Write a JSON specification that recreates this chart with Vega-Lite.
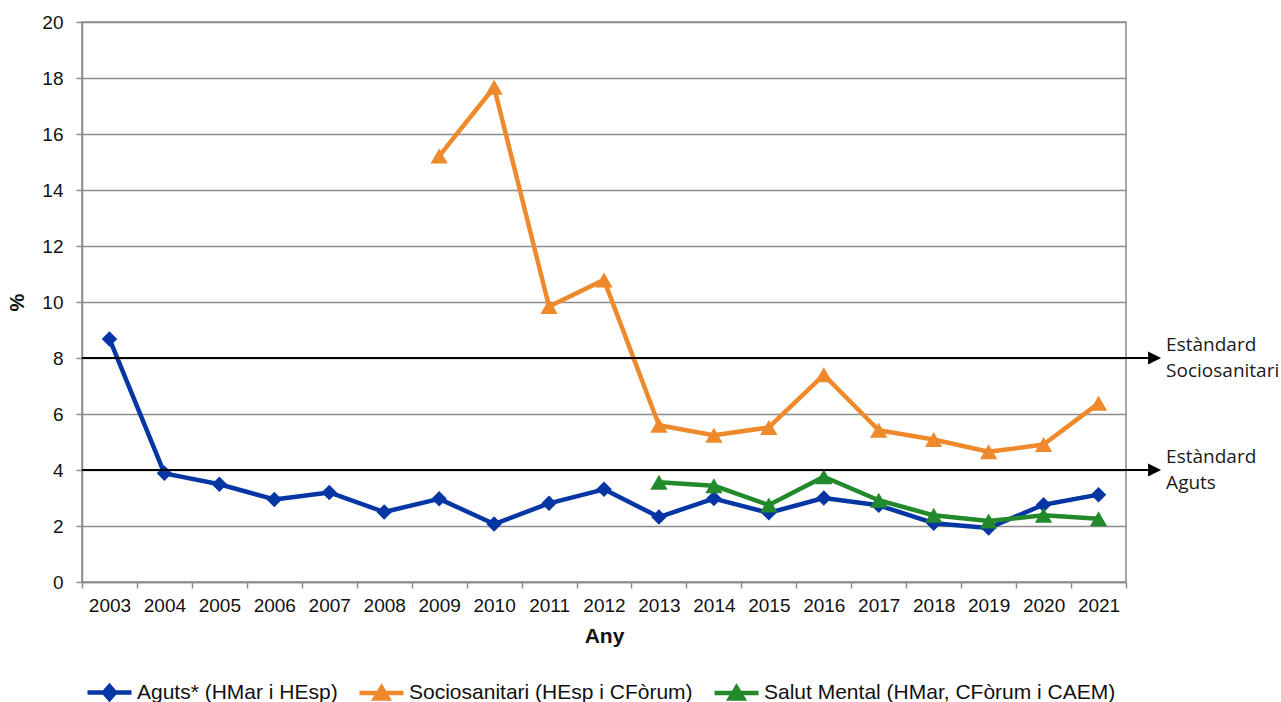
{
  "$schema": "https://vega.github.io/schema/vega-lite/v6.json",
  "width": 1044,
  "height": 560,
  "autosize": {"type": "none"},
  "padding": {"left": 82, "top": 22, "right": 155, "bottom": 120},
  "background": "white",
  "config": {
    "view": {"stroke": "#8c8c8c", "strokeWidth": 1.5},
    "font": "Liberation Sans"
  },
  "datasets": {
    "series": [
      {"any": 2003, "serie": "Aguts* (HMar i HEsp)", "valor": 8.68},
      {"any": 2004, "serie": "Aguts* (HMar i HEsp)", "valor": 3.88},
      {"any": 2005, "serie": "Aguts* (HMar i HEsp)", "valor": 3.49},
      {"any": 2006, "serie": "Aguts* (HMar i HEsp)", "valor": 2.95},
      {"any": 2007, "serie": "Aguts* (HMar i HEsp)", "valor": 3.2},
      {"any": 2008, "serie": "Aguts* (HMar i HEsp)", "valor": 2.5},
      {"any": 2009, "serie": "Aguts* (HMar i HEsp)", "valor": 2.97},
      {"any": 2010, "serie": "Aguts* (HMar i HEsp)", "valor": 2.07},
      {"any": 2011, "serie": "Aguts* (HMar i HEsp)", "valor": 2.81},
      {"any": 2012, "serie": "Aguts* (HMar i HEsp)", "valor": 3.31},
      {"any": 2013, "serie": "Aguts* (HMar i HEsp)", "valor": 2.32},
      {"any": 2014, "serie": "Aguts* (HMar i HEsp)", "valor": 2.98},
      {"any": 2015, "serie": "Aguts* (HMar i HEsp)", "valor": 2.47},
      {"any": 2016, "serie": "Aguts* (HMar i HEsp)", "valor": 3.0},
      {"any": 2017, "serie": "Aguts* (HMar i HEsp)", "valor": 2.74},
      {"any": 2018, "serie": "Aguts* (HMar i HEsp)", "valor": 2.1},
      {"any": 2019, "serie": "Aguts* (HMar i HEsp)", "valor": 1.93},
      {"any": 2020, "serie": "Aguts* (HMar i HEsp)", "valor": 2.76},
      {"any": 2021, "serie": "Aguts* (HMar i HEsp)", "valor": 3.12},
      {"any": 2009, "serie": "Sociosanitari (HEsp i CFòrum)", "valor": 15.21},
      {"any": 2010, "serie": "Sociosanitari (HEsp i CFòrum)", "valor": 17.67},
      {"any": 2011, "serie": "Sociosanitari (HEsp i CFòrum)", "valor": 9.84},
      {"any": 2012, "serie": "Sociosanitari (HEsp i CFòrum)", "valor": 10.79},
      {"any": 2013, "serie": "Sociosanitari (HEsp i CFòrum)", "valor": 5.6},
      {"any": 2014, "serie": "Sociosanitari (HEsp i CFòrum)", "valor": 5.24},
      {"any": 2015, "serie": "Sociosanitari (HEsp i CFòrum)", "valor": 5.52},
      {"any": 2016, "serie": "Sociosanitari (HEsp i CFòrum)", "valor": 7.4},
      {"any": 2017, "serie": "Sociosanitari (HEsp i CFòrum)", "valor": 5.42},
      {"any": 2018, "serie": "Sociosanitari (HEsp i CFòrum)", "valor": 5.09},
      {"any": 2019, "serie": "Sociosanitari (HEsp i CFòrum)", "valor": 4.65},
      {"any": 2020, "serie": "Sociosanitari (HEsp i CFòrum)", "valor": 4.91},
      {"any": 2021, "serie": "Sociosanitari (HEsp i CFòrum)", "valor": 6.38},
      {"any": 2013, "serie": "Salut Mental (HMar, CFòrum i CAEM)", "valor": 3.56},
      {"any": 2014, "serie": "Salut Mental (HMar, CFòrum i CAEM)", "valor": 3.44},
      {"any": 2015, "serie": "Salut Mental (HMar, CFòrum i CAEM)", "valor": 2.75},
      {"any": 2016, "serie": "Salut Mental (HMar, CFòrum i CAEM)", "valor": 3.76},
      {"any": 2017, "serie": "Salut Mental (HMar, CFòrum i CAEM)", "valor": 2.92},
      {"any": 2018, "serie": "Salut Mental (HMar, CFòrum i CAEM)", "valor": 2.38},
      {"any": 2019, "serie": "Salut Mental (HMar, CFòrum i CAEM)", "valor": 2.18},
      {"any": 2020, "serie": "Salut Mental (HMar, CFòrum i CAEM)", "valor": 2.38},
      {"any": 2021, "serie": "Salut Mental (HMar, CFòrum i CAEM)", "valor": 2.26}
    ],
    "standards": [
      {"valor": 8, "etiqueta": ["Estàndard", "Sociosanitari"]},
      {"valor": 4, "etiqueta": ["Estàndard", "Aguts"]}
    ]
  },
  "layer": [
    {
      "data": {"name": "series"},
      "mark": {"type": "line", "strokeWidth": 4.5, "strokeJoin": "round"},
      "encoding": {
        "x": {
          "field": "any", "type": "quantitative",
          "scale": {"domain": [2002.5, 2021.5], "nice": false, "zero": false},
          "axis": {
            "values": [2002.5, 2003.5, 2004.5, 2005.5, 2006.5, 2007.5, 2008.5, 2009.5, 2010.5, 2011.5, 2012.5, 2013.5, 2014.5, 2015.5, 2016.5, 2017.5, 2018.5, 2019.5, 2020.5, 2021.5],
            "labelExpr": "datum.value < 2021.4 ? format(datum.value + 0.5, 'd') : ''",
            "labelOffset": 27.47, "labelAlign": "center",
            "tickSize": 6, "tickColor": "#8c8c8c", "tickWidth": 1.5,
            "domainColor": "#8c8c8c", "domainWidth": 1.5,
            "labelFontSize": 19, "labelColor": "#111111", "labelPadding": 8,
            "labelOverlap": false, "labelFlush": false, "labelBound": false, "grid": false,
            "title": "Any", "titleFontSize": 21, "titleFontWeight": "bold", "titleColor": "#111111", "titlePadding": 10
          }
        },
        "y": {
          "field": "valor", "type": "quantitative",
          "scale": {"domain": [0, 20], "nice": false},
          "axis": {
            "values": [0, 2, 4, 6, 8, 10, 12, 14, 16, 18, 20],
            "grid": true, "gridColor": "#8c8c8c", "gridWidth": 1.5,
            "tickSize": 6, "tickColor": "#8c8c8c", "tickWidth": 1.5,
            "domainColor": "#8c8c8c", "domainWidth": 1.5,
            "labelFontSize": 19, "labelColor": "#111111", "labelPadding": 13,
            "title": "%", "titleFontSize": 20, "titleFontWeight": "bold", "titleColor": "#111111", "titlePadding": 14
          }
        },
        "color": {
          "field": "serie", "type": "nominal",
          "scale": {
            "domain": ["Aguts* (HMar i HEsp)", "Sociosanitari (HEsp i CFòrum)", "Salut Mental (HMar, CFòrum i CAEM)"],
            "range": ["#0636a3", "#ef8a2c", "#228a2b"]
          },
          "legend": {
            "orient": "none", "legendX": 3, "legendY": 646,
            "direction": "horizontal", "title": null, "padding": 0,
            "symbolSize": 1936, "symbolStrokeWidth": 4,
            "labelFontSize": 21, "labelFont": "Liberation Sans", "labelColor": "#111111",
            "labelOffset": 3, "columnPadding": 12, "labelLimit": 600,
            "encode": {
              "symbols": {
                "update": {
                  "shape": {"signal": "datum.value === 'Aguts* (HMar i HEsp)' ? 'M-1,0H1M0,-0.29L0.25,0L0,0.29L-0.25,0Z' : 'M-1,0H1M0,-0.25L0.3,0.25L-0.3,0.25Z'"},
                  "fill": {"scale": "color", "field": "value"},
                  "stroke": {"scale": "color", "field": "value"},
                  "strokeWidth": {"value": 4.5},
                  "opacity": {"value": 1},
                  "fillOpacity": {"value": 1}
                }
              }
            }
          }
        }
      }
    },
    {
      "data": {"name": "series"},
      "transform": [{"filter": "datum.serie === 'Aguts* (HMar i HEsp)'"}],
      "mark": {"type": "point", "shape": "diamond", "filled": true, "size": 240, "opacity": 1},
      "encoding": {
        "x": {"field": "any", "type": "quantitative", "scale": {"domain": [2002.5, 2021.5], "nice": false, "zero": false}},
        "y": {"field": "valor", "type": "quantitative", "scale": {"domain": [0, 20], "nice": false}},
        "color": {"field": "serie", "type": "nominal"}
      }
    },
    {
      "data": {"name": "series"},
      "transform": [{"filter": "datum.serie !== 'Aguts* (HMar i HEsp)'"}],
      "mark": {"type": "point", "shape": "triangle-up", "filled": true, "size": 300, "opacity": 1},
      "encoding": {
        "x": {"field": "any", "type": "quantitative", "scale": {"domain": [2002.5, 2021.5], "nice": false, "zero": false}},
        "y": {"field": "valor", "type": "quantitative", "scale": {"domain": [0, 20], "nice": false}},
        "color": {"field": "serie", "type": "nominal"}
      }
    },
    {
      "data": {"name": "standards"},
      "mark": {"type": "rule", "color": "black", "strokeWidth": 2},
      "encoding": {
        "x": {"datum": 2002.5, "type": "quantitative", "scale": {"domain": [2002.5, 2021.5], "nice": false, "zero": false}},
        "x2": {"datum": 2021.9},
        "y": {"field": "valor", "type": "quantitative", "scale": {"domain": [0, 20], "nice": false}}
      }
    },
    {
      "data": {"name": "standards"},
      "mark": {"type": "point", "shape": "M-1,-1L1,0L-1,1Z", "filled": true, "color": "black", "size": 169, "opacity": 1},
      "encoding": {
        "x": {"datum": 2022.02, "type": "quantitative", "scale": {"domain": [2002.5, 2021.5], "nice": false, "zero": false}},
        "y": {"field": "valor", "type": "quantitative", "scale": {"domain": [0, 20], "nice": false}}
      }
    },
    {
      "data": {"name": "standards"},
      "mark": {"type": "text", "align": "left", "baseline": "middle", "font": "Open Sans", "fontSize": 19, "lineHeight": 26, "dy": -13, "color": "#1a1a1a"},
      "encoding": {
        "x": {"datum": 2022.23, "type": "quantitative", "scale": {"domain": [2002.5, 2021.5], "nice": false, "zero": false}},
        "y": {"field": "valor", "type": "quantitative", "scale": {"domain": [0, 20], "nice": false}},
        "text": {"field": "etiqueta"}
      }
    }
  ]
}
